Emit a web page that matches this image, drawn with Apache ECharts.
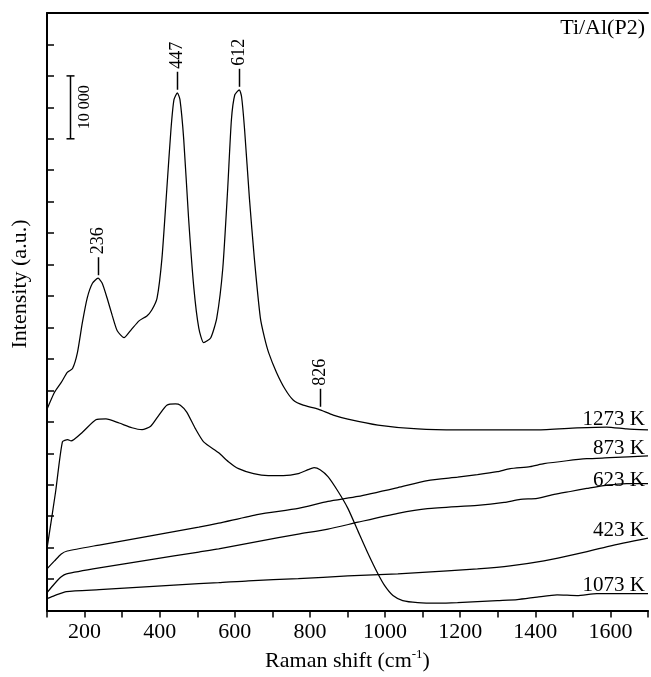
<!DOCTYPE html>
<html>
<head>
<meta charset="utf-8">
<script src="https://cdn.jsdelivr.net/npm/echarts@6/dist/echarts.min.js"></script>
<style>
  html, body { margin: 0; padding: 0; background: #fff; }
  #chart { width: 651px; height: 677px; }
</style>
</head>
<body>
<div id="chart"></div>
<script>
// Raman spectra of Ti/Al(P2) after annealing, [shift (cm-1), intensity]
const k1273 = [
  [100,32000],[120,34700],[138,36270],[154,37850],[168,38480],[181,41000],[194,45730],
  [207,49680],[221,52040],[236,52830],[247,52040],[260,49680],[274,46840],[287,44470],
  [305,43370],[324,44630],[345,46050],[366,46840],[379,47780],[393,49680],[406,55980],
  [419,67020],[430,76480],[438,81220],[447,82320],[454,81220],[464,74910],[477,62290],
  [491,51250],[504,44940],[517,42580],[536,43370],[552,46520],[568,54410],[581,67020],
  [591,78060],[600,82000],[612,82790],[618,81690],[626,76480],[639,65450],[652,55980],
  [668,46520],[679,43370],[690,41000],[711,37850],[734,35170],[756,33430],[782,32640],
  [822,32010],[862,31070],[901,30440],[981,29490],[1087,28860],[1193,28700],[1299,28700],
  [1405,28700],[1511,29020],[1590,29170],[1643,28860],[1700,28700]
];
const k1073 = [
  [100,9830],[123,18920],[141,26810],[155,27170],[164,26970],[195,28390],[230,30330],
  [257,30480],[292,29810],[326,29060],[353,28750],[376,29280],[398,31070],[419,32640],
  [442,32850],[455,32640],[472,31540],[495,28910],[517,26810],[557,25070],[583,23660],
  [610,22550],[650,21760],[689,21450],[729,21450],[769,21760],[795,22390],[811,22710],
  [827,22390],[848,21290],[875,18920],[901,16240],[928,12620],[954,9150],[981,5830],
  [999,3940],[1021,2370],[1047,1580],[1087,1260],[1140,1180],[1193,1260],[1246,1420],
  [1299,1580],[1352,1730],[1405,2130],[1458,2480],[1511,2370],[1564,2680],[1630,2680],
  [1700,2680]
];
const k873 = [
  [100,6620],[120,7890],[138,8990],[154,9460],[239,10410],[372,11830],[504,13250],
  [557,13880],[663,15300],[769,16240],[848,17350],[928,18140],[1034,19550],[1113,20660],
  [1193,21200],[1246,21600],[1299,22080],[1333,22550],[1386,22870],[1423,23340],
  [1484,23810],[1537,24130],[1598,24290],[1700,24600]
];
const k623 = [
  [100,2840],[120,4260],[138,5360],[152,5830],[239,6780],[372,8040],[504,9300],
  [557,9800],[663,11000],[769,12140],[848,12930],[928,14040],[1034,15450],[1113,16200],
  [1246,16720],[1317,17190],[1360,17660],[1405,17820],[1450,18450],[1493,18920],
  [1537,19400],[1582,19870],[1643,20190],[1700,20190]
];
const k423 = [
  [100,1890],[120,2370],[152,3000],[239,3310],[372,3790],[504,4260],[557,4420],
  [636,4730],[769,5050],[901,5520],[1034,5830],[1166,6310],[1246,6620],[1333,7100],
  [1423,7890],[1511,8990],[1598,10250],[1700,11510]
];

// Band positions marked on the 1273 K spectrum
const peakShifts = [236, 447, 612, 826];
// Intensity scale bar: shift position, lower and upper intensity
const scaleBar = [[160, 75000, 85000]];

const xTicks = [200, 400, 600, 800, 1000, 1200, 1400, 1600];
const tempLabels = ['1273 K', '873 K', '623 K', '423 K', '1073 K'];

const FONT = '"Liberation Serif", "Times New Roman", serif';

function valueAt(series, x) {
  for (let i = 1; i < series.length; i++) {
    const a = series[i - 1], b = series[i];
    if (x <= b[0]) {
      const t = (x - a[0]) / (b[0] - a[0]);
      return a[1] + t * (b[1] - a[1]);
    }
  }
  return series[series.length - 1][1];
}

const lineSeries = (name, data) => ({
  name, type: 'line', data,
  showSymbol: false, symbol: 'none', smooth: 0.2,
  lineStyle: { color: '#000', width: 1.25 },
  silent: true, z: 3
});

const chart = echarts.init(document.getElementById('chart'), null, { renderer: 'canvas' });

chart.setOption({
  animation: false,
  backgroundColor: '#fff',
  grid: { left: 47, right: 0, top: 13, bottom: 62 },
  xAxis: [
    {
      type: 'value', min: 100, max: 1700, interval: 100, position: 'bottom',
      axisLine: { lineStyle: { color: '#000', width: 2 } },
      axisTick: { inside: false, length: 7, lineStyle: { color: '#000', width: 1.5 } },
      axisLabel: {
        color: '#000', fontFamily: FONT, fontSize: 22, margin: 11,
        formatter: v => (xTicks.indexOf(v) >= 0 ? String(v) : '')
      },
      splitLine: { show: false },
      name: 'Raman shift (cm{sup|-1})',
      nameLocation: 'middle', nameGap: 38,
      nameTextStyle: {
        color: '#000', fontFamily: FONT, fontSize: 22,
        rich: { sup: { fontFamily: FONT, fontSize: 13, color: '#000', padding: [0, 0, 12, 0] } }
      }
    },
    {
      type: 'value', min: 100, max: 1700, position: 'top',
      axisLine: { show: true, lineStyle: { color: '#000', width: 2 } },
      axisTick: { show: false }, axisLabel: { show: false }, splitLine: { show: false }
    }
  ],
  yAxis: [
    {
      type: 'value', min: 0, max: 95000, interval: 5000, position: 'left',
      axisLine: { show: true, lineStyle: { color: '#000', width: 2 } },
      axisTick: { show: true, inside: true, length: 7, lineStyle: { color: '#000', width: 1.5 } },
      axisLabel: { show: false }, splitLine: { show: false }
    }
  ],
  graphic: [
    {
      type: 'text', x: 20, y: 284, rotation: Math.PI / 2,
      style: { text: 'Intensity (a.u.)', fill: '#000', font: '22px ' + FONT, align: 'center', verticalAlign: 'middle' }
    },
    {
      type: 'text', x: 645, y: 28,
      style: { text: 'Ti/Al(P2)', fill: '#000', font: '22px ' + FONT, align: 'right', verticalAlign: 'middle' }
    },
    ...tempLabels.map((t, i) => ({
      type: 'text', x: 645, y: [419, 448, 480, 530, 585.5][i],
      style: { text: t, fill: '#000', font: '21px ' + FONT, align: 'right', verticalAlign: 'middle' }
    }))
  ],
  series: [
    lineSeries('1273 K', k1273),
    lineSeries('1073 K', k1073),
    lineSeries('873 K', k873),
    lineSeries('623 K', k623),
    lineSeries('423 K', k423),
    {
      name: 'bands', type: 'custom', coordinateSystem: 'cartesian2d', silent: true, z: 4,
      data: peakShifts.map(p => [p, valueAt(k1273, p)]),
      renderItem: (params, api) => {
        const pt = api.coord([api.value(0), api.value(1)]);
        const x = Math.round(pt[0]) + 0.5;
        const y0 = pt[1] - 3, y1 = pt[1] - 21;
        return {
          type: 'group',
          children: [
            { type: 'line', shape: { x1: x, y1: y0, x2: x, y2: y1 }, style: { stroke: '#000', lineWidth: 1.5 } },
            {
              type: 'text', x: x, y: y1 - 3, rotation: Math.PI / 2,
              style: { text: String(api.value(0)), fill: '#000', font: '18px ' + FONT, align: 'left', verticalAlign: 'middle' }
            }
          ]
        };
      }
    },
    {
      name: 'scale', type: 'custom', coordinateSystem: 'cartesian2d', silent: true, z: 4,
      data: scaleBar,
      renderItem: (params, api) => {
        const lo = api.coord([api.value(0), api.value(1)]);
        const hi = api.coord([api.value(0), api.value(2)]);
        const x = Math.round(lo[0]) + 0.5;
        const span = api.value(2) - api.value(1);
        const label = String(span).replace(/\B(?=(\d{3})+(?!\d))/g, ' ');
        return {
          type: 'group',
          children: [
            { type: 'line', shape: { x1: x, y1: lo[1], x2: x, y2: hi[1] }, style: { stroke: '#000', lineWidth: 1.5 } },
            { type: 'line', shape: { x1: x - 4, y1: lo[1], x2: x + 4, y2: lo[1] }, style: { stroke: '#000', lineWidth: 1.5 } },
            { type: 'line', shape: { x1: x - 4, y1: hi[1], x2: x + 4, y2: hi[1] }, style: { stroke: '#000', lineWidth: 1.5 } },
            {
              type: 'text', x: x + 14, y: (lo[1] + hi[1]) / 2, rotation: Math.PI / 2,
              style: { text: label, fill: '#000', font: '16px ' + FONT, align: 'center', verticalAlign: 'middle' }
            }
          ]
        };
      }
    }
  ]
});
</script>
</body>
</html>
